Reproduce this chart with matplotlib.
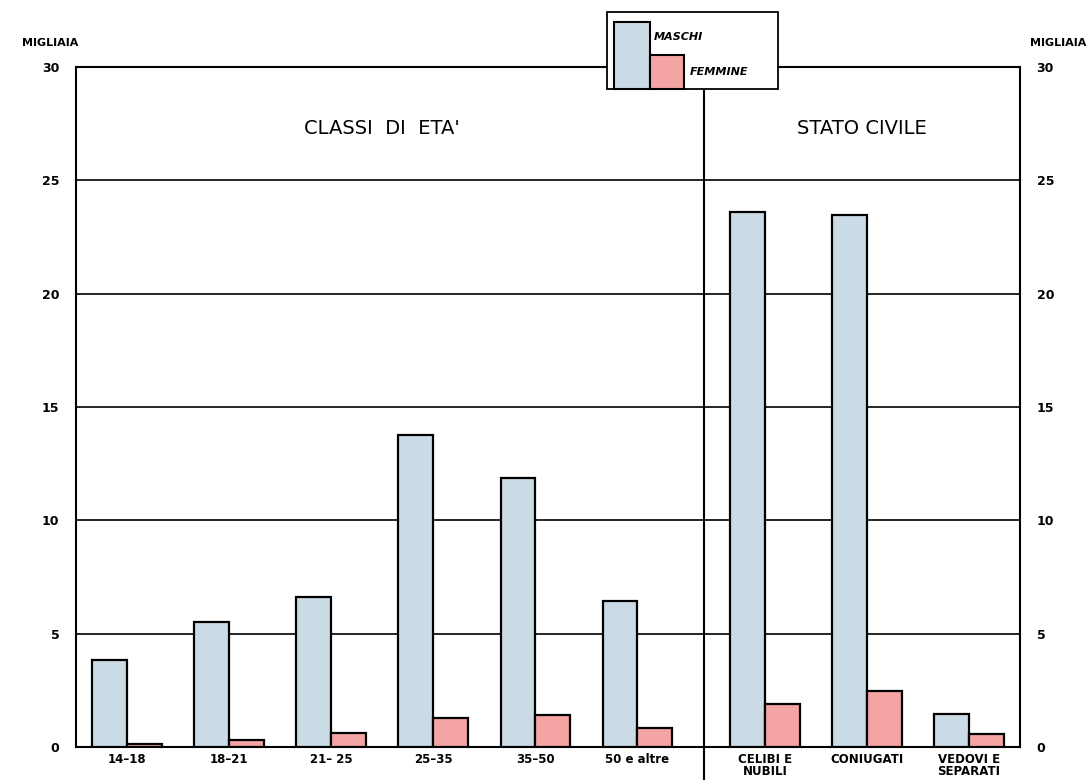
import matplotlib
matplotlib.use("Agg")
import matplotlib.pyplot as plt
from matplotlib.patches import Rectangle
import numpy as np

# ---- data (migliaia) ----
age_classes = ["14\u201318", "18\u201321", "21\u2013 25", "25\u201335", "35\u201350", "50 e altre"]
age_maschi = [3.85, 5.5, 6.6, 13.75, 11.85, 6.45]
age_femmine = [0.12, 0.32, 0.62, 1.3, 1.4, 0.82]

civil_classes = ["CELIBI E\nNUBILI", "CONIUGATI", "VEDOVI E\nSEPARATI"]
civil_maschi = [23.6, 23.45, 1.45]
civil_femmine = [1.9, 2.45, 0.57]

yticks = [0, 5, 10, 15, 20, 25, 30]
legend_labels = ["MASCHI", "FEMMINE"]
section_titles = ["CLASSI  DI  ETA'", "STATO CIVILE"]

c_m = "#cbdbe5"
c_f = "#f3a4a3"

fig = plt.figure(figsize=(10.88, 7.8), dpi=100)
ax = fig.add_axes([76/1088, 1-747/780, (1020-76)/1088, (747-67)/780])

x_age = np.arange(len(age_classes))
x_civ = 6.25 + np.arange(len(civil_classes))
w = 0.34
divider = 5.65

for xs, m, f in [(x_age, age_maschi, age_femmine), (x_civ, civil_maschi, civil_femmine)]:
    ax.bar(xs - w/2, m, width=w, color=c_m, edgecolor="black", linewidth=1.6, zorder=3)
    ax.bar(xs + w/2, f, width=w, color=c_f, edgecolor="black", linewidth=1.6, zorder=3)

ax.set_xlim(-0.5, 8.75)
ax.set_ylim(0, 30)
for y in yticks[1:-1]:
    ax.axhline(y, color="black", lw=1.2, zorder=1)
for s in ax.spines.values():
    s.set_linewidth(1.5)
    s.set_color("black")

ax.plot([divider, divider], [-1.5, 30], color="black", lw=1.5, clip_on=False, zorder=4)

ax.set_yticks(yticks)
ax.set_yticklabels([str(t) for t in yticks], fontsize=9, fontweight="bold")
ax.tick_params(axis="y", length=0, pad=12, labelright=True, labelleft=True)
ax.set_xticks(np.concatenate([x_age, x_civ]))
ax.set_xticklabels(age_classes + civil_classes, fontsize=8.5, fontweight="bold",
                   linespacing=0.95, va="top")
ax.tick_params(axis="x", length=0, pad=4)

fig.text(50/1088, 1-43/780, "MIGLIAIA", ha="center", va="center", fontsize=8, fontweight="bold")
fig.text(1058/1088, 1-43/780, "MIGLIAIA", ha="center", va="center", fontsize=8, fontweight="bold")

ax.text(np.mean(x_age), 27.3, section_titles[0], ha="center", va="center", fontsize=14)
ax.text(np.mean(x_civ) - 0.05, 27.3, section_titles[1], ha="center", va="center", fontsize=14)

# legend box (figure coords in pixels)
def fr(x0, y0, x1, y1, **kw):
    return Rectangle((x0/1088, 1-y1/780), (x1-x0)/1088, (y1-y0)/780,
                     transform=fig.transFigure, **kw)

fig.patches.append(fr(607, 12, 778, 89, facecolor="white", edgecolor="black", lw=1.3, zorder=5))
fig.patches.append(fr(614, 22, 650, 89, facecolor=c_m, edgecolor="black", lw=1.5, zorder=6))
fig.patches.append(fr(650, 55, 684, 89, facecolor=c_f, edgecolor="black", lw=1.5, zorder=6))
fig.text(654/1088, 1-37/780, legend_labels[0], ha="left", va="center", fontsize=8,
         fontweight="bold", style="italic", zorder=7)
fig.text(690/1088, 1-72/780, legend_labels[1], ha="left", va="center", fontsize=8,
         fontweight="bold", style="italic", zorder=7)

fig.savefig("out.png", dpi=100, facecolor="white")
